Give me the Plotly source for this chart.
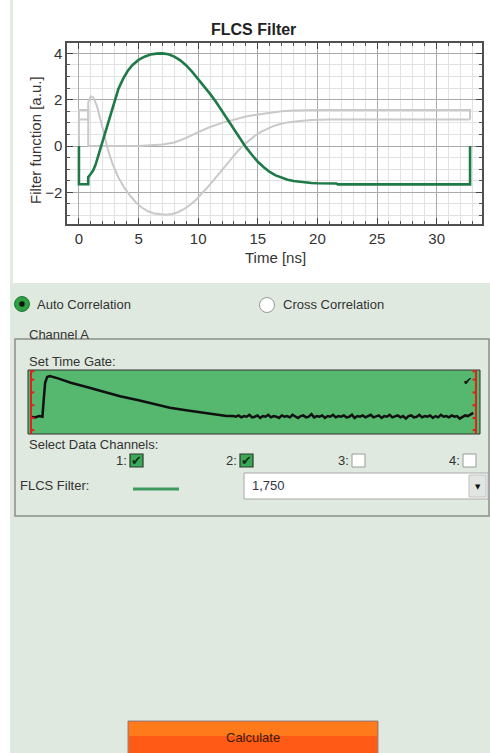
import plotly.graph_objects as go

W, H = 490, 753

# ---------------- data ----------------
green_t = [0, 0, 0.78, 0.78, 1.0, 1.2, 1.4, 1.6, 1.9, 2.2, 2.5, 2.9, 3.3, 3.7, 4.1, 4.5, 5.0, 5.5, 6.0,
           6.5, 7.0, 7.5, 8.0, 8.5, 9.0, 9.5, 10.0, 10.5, 11.0, 11.5, 12.0, 12.5, 13.0, 13.5, 14.0,
           14.5, 15.0, 15.5, 16.0, 16.5, 17.0, 17.5, 18.0, 18.5, 19.0, 19.5, 20.0, 21.6, 21.7, 32.8, 32.8]
green_y = [0, -1.65, -1.65, -1.35, -1.2, -1.05, -0.8, -0.45, 0.0, 0.55, 1.1, 1.85, 2.45, 2.9, 3.25, 3.5,
           3.72, 3.86, 3.95, 3.99, 4.0, 3.96, 3.86, 3.7, 3.48, 3.2, 2.9, 2.6, 2.25, 1.9, 1.5, 1.1, 0.7,
           0.32, -0.05, -0.38, -0.68, -0.92, -1.12, -1.27, -1.38, -1.46, -1.51, -1.55, -1.58, -1.6,
           -1.61, -1.62, -1.66, -1.66, 0]

dip_t = [0, 0, 0.78, 0.78, 1.0, 1.2, 1.5, 1.8, 2.1, 2.4, 2.8, 3.3, 3.8, 4.3, 4.8, 5.3, 5.8, 6.3, 6.8,
         7.3, 7.8, 8.3, 8.8, 9.3, 9.8, 10.3, 10.8, 11.3, 11.8, 12.3, 12.8, 13.3, 13.8, 14.3, 14.8,
         15.3, 15.8, 16.3, 16.8, 17.5, 18.5, 19.5, 21.0, 32.8]
dip_y = [0, 1.15, 1.15, 1.9, 2.15, 2.1, 1.75, 1.2, 0.55, -0.1, -0.75, -1.35, -1.8, -2.15, -2.45,
         -2.67, -2.82, -2.92, -2.96, -2.97, -2.94, -2.86, -2.73, -2.55, -2.33, -2.07, -1.78, -1.47,
         -1.15, -0.83, -0.52, -0.23, 0.03, 0.26, 0.46, 0.62, 0.75, 0.86, 0.94, 1.02, 1.08, 1.12,
         1.14, 1.15]

sig_t = [0, 0, 0.78, 0.78, 5.0, 6.0, 7.0, 8.0, 9.0, 10.0, 11.0, 12.0, 13.0, 14.0, 15.0, 16.0, 17.0,
         18.0, 19.0, 20.0, 32.8, 32.8]
sig_y = [0, 1.55, 1.55, 0, 0.0, 0.02, 0.06, 0.15, 0.35, 0.6, 0.82, 1.0, 1.15, 1.27, 1.36, 1.44, 1.5,
         1.53, 1.55, 1.56, 1.56, 1.15]

# time-gate decay histogram (normalised counts)
gate_head_t = [0.0, 0.3, 0.6, 0.85, 0.95, 1.05, 1.2, 1.4, 2.0, 2.95, 4.2, 5.4, 6.6, 7.9, 9.1, 10.3,
               11.5, 12.8, 13.7, 14.5]
gate_head_c = [0.27, 0.26, 0.28, 0.27, 0.55, 0.80, 0.89, 0.906, 0.87, 0.80, 0.73, 0.656, 0.59, 0.53,
               0.47, 0.41, 0.37, 0.33, 0.30, 0.28]
gate_tail_c = [0.28, 0.27, 0.29, 0.26, 0.28, 0.27, 0.30, 0.26, 0.27, 0.29,
               0.25, 0.28, 0.27, 0.30, 0.26, 0.28, 0.27, 0.25, 0.29, 0.27,
               0.28, 0.26, 0.30, 0.27, 0.25, 0.28, 0.29, 0.26, 0.27, 0.31,
               0.26, 0.28, 0.27, 0.29, 0.25, 0.28, 0.27, 0.30, 0.26, 0.28,
               0.27, 0.29, 0.26, 0.27, 0.30, 0.25, 0.28, 0.27, 0.29, 0.26,
               0.28, 0.30, 0.26, 0.27, 0.29, 0.25, 0.28, 0.27, 0.30, 0.26,
               0.27, 0.29, 0.26, 0.28, 0.24, 0.28, 0.29, 0.26, 0.27, 0.30,
               0.26, 0.28, 0.27, 0.29, 0.25, 0.28, 0.26, 0.30, 0.27, 0.28,
               0.26, 0.29, 0.27, 0.28, 0.24, 0.27, 0.29, 0.28, 0.30, 0.33]
gate_tail_t = [15.0 + 0.2 * i for i in range(len(gate_tail_c))]
gate_t = gate_head_t + gate_tail_t
gate_c = gate_head_c + gate_tail_c
gate_limits = [0.0, 33.0]
gate_marks = [0.06, 0.25, 0.45, 0.65, 0.85, 0.98]

x_ticks = [0, 5, 10, 15, 20, 25, 30]
y_ticks = [-2, 0, 2, 4]
filter_value = "1,750"
channels = ["1:", "2:", "3:", "4:"]
channel_checked = [True, True, False, False]


# ---------------- helpers ----------------
def X(px):
    return px / W


def Y(py):
    return 1 - py / H


shapes = []
annotations = []


def rect(x0, y0, x1, y1, fill=None, line=None, lw=1, layer="above", kind="rect"):
    shapes.append(dict(type=kind, xref="paper", yref="paper", x0=X(x0), x1=X(x1), y0=Y(y1), y1=Y(y0),
                       fillcolor=fill if fill else "rgba(0,0,0,0)",
                       line=dict(color=line if line else "rgba(0,0,0,0)", width=lw if line else 0),
                       layer=layer))


def text(t, px, py, size=13, color="#333", xanchor="left", bold=False, angle=0, family="Liberation Sans"):
    annotations.append(dict(text=("<b>%s</b>" % t) if bold else t, x=X(px), y=Y(py), xref="paper",
                            yref="paper", xanchor=xanchor, yanchor="middle", showarrow=False,
                            textangle=angle, font=dict(size=size, color=color, family=family)))


# ---------------- figure ----------------
fig = go.Figure()
fig.add_trace(go.Scatter(x=dip_t, y=dip_y, mode="lines", line=dict(color="#C9C9C9", width=2),
                         xaxis="x", yaxis="y", hoverinfo="skip"))
fig.add_trace(go.Scatter(x=sig_t, y=sig_y, mode="lines", line=dict(color="#C9C9C9", width=2),
                         xaxis="x", yaxis="y", hoverinfo="skip"))
fig.add_trace(go.Scatter(x=green_t, y=green_y, mode="lines", line=dict(color="#1E7A46", width=2.6),
                         xaxis="x", yaxis="y", hoverinfo="skip"))
fig.add_trace(go.Scatter(x=gate_t, y=gate_c, mode="lines", line=dict(color="#111111", width=2.5),
                         xaxis="x2", yaxis="y2", hoverinfo="skip"))

# background panels
rect(10, 283, 490, 753, fill="#E0E9DF", layer="below")
rect(10, 0, 13, 283, fill="#E3ECE3", layer="below")

# gate plot decorations
shapes.append(dict(type="rect", xref="x2 domain", yref="y2 domain", x0=0, x1=1, y0=0, y1=1,
                   fillcolor="#55B86E", line=dict(color="#333333", width=1), layer="below"))
for g in gate_limits:
    shapes.append(dict(type="line", xref="x2", yref="y2 domain", x0=g, x1=g, y0=0, y1=1,
                       line=dict(color="#E0201A", width=2)))
    for m in gate_marks:
        d = 0.25 if g == gate_limits[0] else -0.25
        shapes.append(dict(type="line", xref="x2", yref="y2 domain", x0=g, x1=g + d, y0=m, y1=m,
                           line=dict(color="#E0201A", width=2)))

# group box
rect(15, 339, 489, 516, line="#8A8F8A", lw=1.5)

# radios
rect(14.5, 296.5, 29.5, 311.5, fill="#2EA043", line="#1E7A35", lw=1, kind="circle")
rect(19.3, 301.3, 24.7, 306.7, fill="#101010", kind="circle")
rect(259.5, 297.5, 274.5, 312.5, fill="#FFFFFF", line="#9A9A9A", lw=1, kind="circle")
text("Auto Correlation", 35, 304)
text("Cross Correlation", 281, 304)

text("Channel A", 27, 334)
text("Set Time Gate:", 27, 361)
text("Select Data Channels:", 27, 444)

# checkboxes
box_x = [130, 240, 352, 463]
for lab, bx, chk in zip(channels, box_x, channel_checked):
    text(lab, bx - 1, 460, xanchor="right")
    if chk:
        rect(bx, 454, bx + 13, 467, fill="#3BA957", line="#2B3B2B", lw=1.2)
        text("✔", bx + 6.5, 460.5, size=13, color="#14301A", xanchor="center", family="DejaVu Sans")
    else:
        rect(bx, 454, bx + 13, 467, fill="#FFFFFF", line="#9A9A9A", lw=1)

# FLCS filter row
text("FLCS Filter:", 18, 485)
shapes.append(dict(type="line", xref="paper", yref="paper", x0=X(133), x1=X(179), y0=Y(489), y1=Y(489),
                   line=dict(color="#3C9A5F", width=3)))
rect(244, 473, 488, 499, fill="#FFFFFF", line="#A8A8A8", lw=1)
rect(469, 475, 486, 497, fill="#E2E6E2", line="#C0C0C0", lw=1)
text("▼", 477.5, 486.5, size=7, color="#111", xanchor="center", family="DejaVu Sans")
text(filter_value, 250, 485, color="#333344")

# gate check mark
text("✔", 467, 381, size=11, color="#111", xanchor="center", family="DejaVu Sans")

# calculate button
rect(128, 721, 378, 760, fill="#FF5B16", line="#8E8A86", lw=1)
rect(129, 722, 377, 736, fill="#FF7A1A")
text("Calculate", 253, 737, color="#3A1A08", xanchor="center")

# main plot texts
text("FLCS Filter", 253, 30, size=16, color="#222", xanchor="center", bold=True)
text("Time [ns]", 275, 258, size=15, color="#333", xanchor="center")
text("Filter function [a.u.]", 35, 140, size=15, color="#3a3333", xanchor="center", angle=-90)

axis_common = dict(showline=True, linecolor="#505050", linewidth=1.5, mirror="ticks", ticks="inside",
                   ticklen=6, tickwidth=1, tickcolor="#444", zeroline=False, showgrid=True,
                   gridcolor="#A9A9A9", gridwidth=1,
                   tickfont=dict(size=15, color="#333333", family="Liberation Sans"))

fig.update_layout(
    width=W, height=H, margin=dict(l=0, r=0, t=0, b=0), showlegend=False,
    paper_bgcolor="#FFFFFF", plot_bgcolor="#FFFFFF",
    xaxis=dict(domain=[X(67), X(482)], range=[-1.0, 33.8], tickvals=x_ticks, anchor="y",
               minor=dict(dtick=1, tick0=0, showgrid=True, gridcolor="#E2E2E2", ticks="inside",
                          ticklen=3, tickcolor="#555"), **axis_common),
    yaxis=dict(domain=[Y(224), Y(43)], range=[-3.37, 4.45], tickvals=y_ticks, anchor="x",
               minor=dict(dtick=0.5, tick0=0, showgrid=True, gridcolor="#E2E2E2", ticks="inside",
                          ticklen=3, tickcolor="#555"), **axis_common),
    xaxis2=dict(domain=[X(28), X(480)], range=[-0.22, 33.3], visible=False, anchor="y2"),
    yaxis2=dict(domain=[Y(434), Y(370)], range=[0, 1], visible=False, anchor="x2"),
    shapes=shapes, annotations=annotations,
)

fig.write_html("out.html", config={"displayModeBar": False},
               post_script="document.body.style.margin='0';document.body.style.overflow='hidden';")
